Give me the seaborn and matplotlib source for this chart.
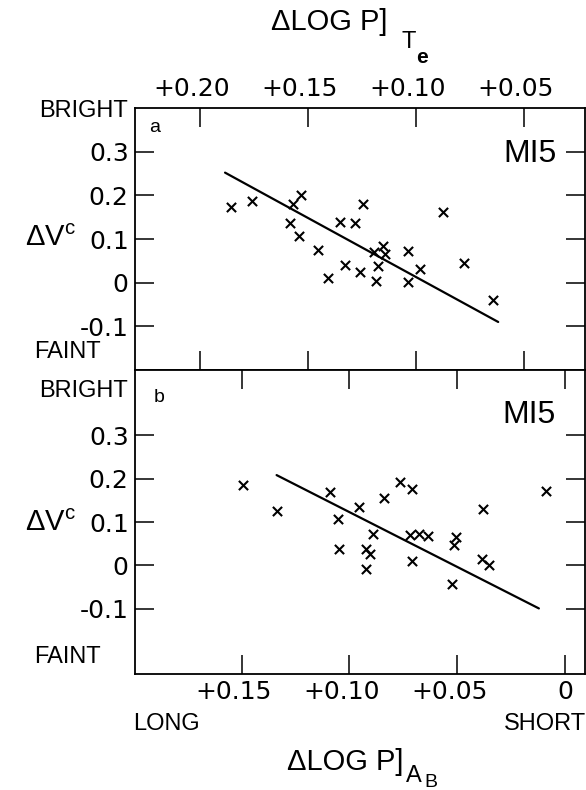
import numpy as np
import pandas as pd
import matplotlib
matplotlib.use("Agg")
import matplotlib.pyplot as plt
import matplotlib.transforms as mtrans
import seaborn as sns

# ---------------- data ----------------
# panel a : Delta log P ]_Te  vs  Delta V^c
a_dlogp = [0.1856, 0.1758, 0.1570, 0.1531, 0.1585, 0.1542, 0.1455, 0.1350,
           0.1330, 0.1407, 0.1282, 0.1247, 0.1258, 0.1194, 0.1151, 0.1144,
           0.1177, 0.1184, 0.1036, 0.0981, 0.1037, 0.0874, 0.0778, 0.0642]
a_dv = [0.174, 0.188, 0.180, 0.200, 0.136, 0.108, 0.075, 0.140,
        0.041, 0.011, 0.136, 0.180, 0.024, 0.070, 0.085, 0.065,
        0.039, 0.003, 0.072, 0.032, 0.002, 0.161, 0.046, -0.040]
a_fit_x = [0.1884, 0.0619]
a_fit_y = [0.252, -0.090]

# panel b : Delta log P ]_AB  vs  Delta V^c
b_dlogp = [0.1494, 0.1338, 0.1089, 0.1053, 0.1048, 0.0956, 0.0925, 0.0905,
           0.0925, 0.0889, 0.0840, 0.0766, 0.0711, 0.0719, 0.0677, 0.0634,
           0.0711, 0.0506, 0.0514, 0.0526, 0.0382, 0.0387, 0.0353, 0.0090]
b_dv = [0.185, 0.125, 0.169, 0.108, 0.038, 0.135, 0.038, 0.026,
        -0.009, 0.073, 0.156, 0.192, 0.176, 0.070, 0.072, 0.068,
        0.010, 0.066, 0.046, -0.042, 0.131, 0.014, 0.001, 0.172]
b_fit_x = [0.1338, 0.0121]
b_fit_y = [0.208, -0.099]

top_ticks = [0.20, 0.15, 0.10, 0.05]
top_labels = ["+0.20", "+0.15", "+0.10", "+0.05"]
bot_ticks = [0.15, 0.10, 0.05, 0.0]
bot_labels = ["+0.15", "+0.10", "+0.05", "0"]
y_ticks = [-0.1, 0.0, 0.1, 0.2, 0.3]
y_labels = ["-0.1", "0", "0.1", "0.2", "0.3"]

# ---------------- style ----------------
sns.set_theme(style="white")
plt.rcParams["font.family"] = ["Liberation Sans", "DejaVu Sans"]
plt.rcParams["text.color"] = "black"
plt.rcParams["mathtext.fontset"] = "custom"
plt.rcParams["mathtext.rm"] = "Liberation Sans"
plt.rcParams["mathtext.it"] = "Liberation Sans:italic"
plt.rcParams["mathtext.bf"] = "Liberation Sans:bold"
plt.rcParams["axes.edgecolor"] = "black"
plt.rcParams["axes.linewidth"] = 1.3

W, H = 586, 790
fig = plt.figure(figsize=(W / 100, H / 100), dpi=100)
fig.patch.set_facecolor("white")


def px(x, y):
    return x / W, 1 - y / H


ax1 = fig.add_axes([135 / W, (H - 370) / H, 450 / W, 262 / H])
ax2 = fig.add_axes([135 / W, (H - 674) / H, 450 / W, 304 / H])

da = pd.DataFrame({"dlogp": a_dlogp, "dv": a_dv})
db = pd.DataFrame({"dlogp": b_dlogp, "dv": b_dv})

for ax, d, fx, fy in [(ax1, da, a_fit_x, a_fit_y), (ax2, db, b_fit_x, b_fit_y)]:
    sns.scatterplot(data=d, x="dlogp", y="dv", marker="x", color="black",
                    s=44, linewidth=1.5, ax=ax, zorder=3)
    sns.lineplot(x=fx, y=fy, color="black", linewidth=1.6, ax=ax, zorder=2)
    ax.set_xlabel("")
    ax.set_ylabel("")
    ax.set_facecolor("white")
    for sp in ax.spines.values():
        sp.set_visible(True)
        sp.set_color("black")
        sp.set_linewidth(1.3)
    ax.set_yticks(y_ticks)
    ax.set_yticklabels(y_labels)
    ax.tick_params(axis="both", direction="in", length=13.5, width=1.1,
                   color="black", labelsize=18, labelcolor="black")
    ax.tick_params(axis="y", left=True, right=True, labelleft=True,
                   labelright=False, pad=4.5)
    for lbl in ax.get_yticklabels():
        lbl.set_fontfamily("DejaVu Sans")

ax1.set_xlim(0.2301, 0.0217)
ax1.set_ylim(-0.2, 0.4)
ax1.set_xticks(top_ticks)
ax1.set_xticklabels(top_labels)
ax1.tick_params(axis="x", top=True, bottom=True, labeltop=True,
                labelbottom=False, pad=5)

ax2.set_xlim(0.1995, -0.0093)
ax2.set_ylim(-0.25, 0.45)
ax2.set_xticks(bot_ticks)
ax2.set_xticklabels(bot_labels)
ax2.tick_params(axis="x", top=True, bottom=True, labeltop=False,
                labelbottom=True, pad=4)

shift = mtrans.ScaledTranslation(-8 / 100, 0, fig.dpi_scale_trans)
for ax in (ax1, ax2):
    for tk in ax.xaxis.get_major_ticks():
        for lbl in (tk.label1, tk.label2):
            lbl.set_fontfamily("DejaVu Sans")
            if lbl.get_text().startswith("+"):
                lbl.set_transform(lbl.get_transform() + shift)

# panel texts
ax1.text(0.044, 0.924, "a", transform=ax1.transAxes, fontsize=14,
         ha="center", va="center")
ax2.text(0.053, 0.911, "b", transform=ax2.transAxes, fontsize=14,
         ha="center", va="center")
ax1.text(0.878, 0.824, "MI5", transform=ax1.transAxes, fontsize=23,
         ha="center", va="center")
ax2.text(0.876, 0.852, "MI5", transform=ax2.transAxes, fontsize=23,
         ha="center", va="center")

# left side words
fig.text(*px(128, 111), "BRIGHT", fontsize=17, ha="right", va="center")
fig.text(*px(34, 352), "FAINT", fontsize=17, ha="left", va="center")
fig.text(*px(128, 391), "BRIGHT", fontsize=17, ha="right", va="center")
fig.text(*px(34, 657), "FAINT", fontsize=17, ha="left", va="center")

# y labels
fig.text(*px(50, 238), r"ΔV$^{\mathrm{c}}$", fontsize=21, ha="center", va="center")
fig.text(*px(50, 523), r"ΔV$^{\mathrm{c}}$", fontsize=21, ha="center", va="center")

# bottom words
fig.text(*px(133, 730), "LONG", fontsize=17, ha="left", va="baseline")
fig.text(*px(586, 730), "SHORT", fontsize=17, ha="right", va="baseline")

# axis titles (main text + stepped subscripts)
fig.text(*px(271, 30), "ΔLOG P]", fontsize=21, ha="left", va="baseline")
fig.text(*px(402, 48), "T", fontsize=17, ha="left", va="baseline")
fig.text(*px(416, 63), "e", fontsize=15, ha="left", va="baseline",
         fontweight="bold")

fig.text(*px(287, 770), "ΔLOG P]", fontsize=21, ha="left", va="baseline")
fig.text(*px(406, 782), "A", fontsize=17, ha="left", va="baseline")
fig.text(*px(424, 787), "B", fontsize=14, ha="left", va="baseline")

fig.savefig("out.png", dpi=100, facecolor="white")
